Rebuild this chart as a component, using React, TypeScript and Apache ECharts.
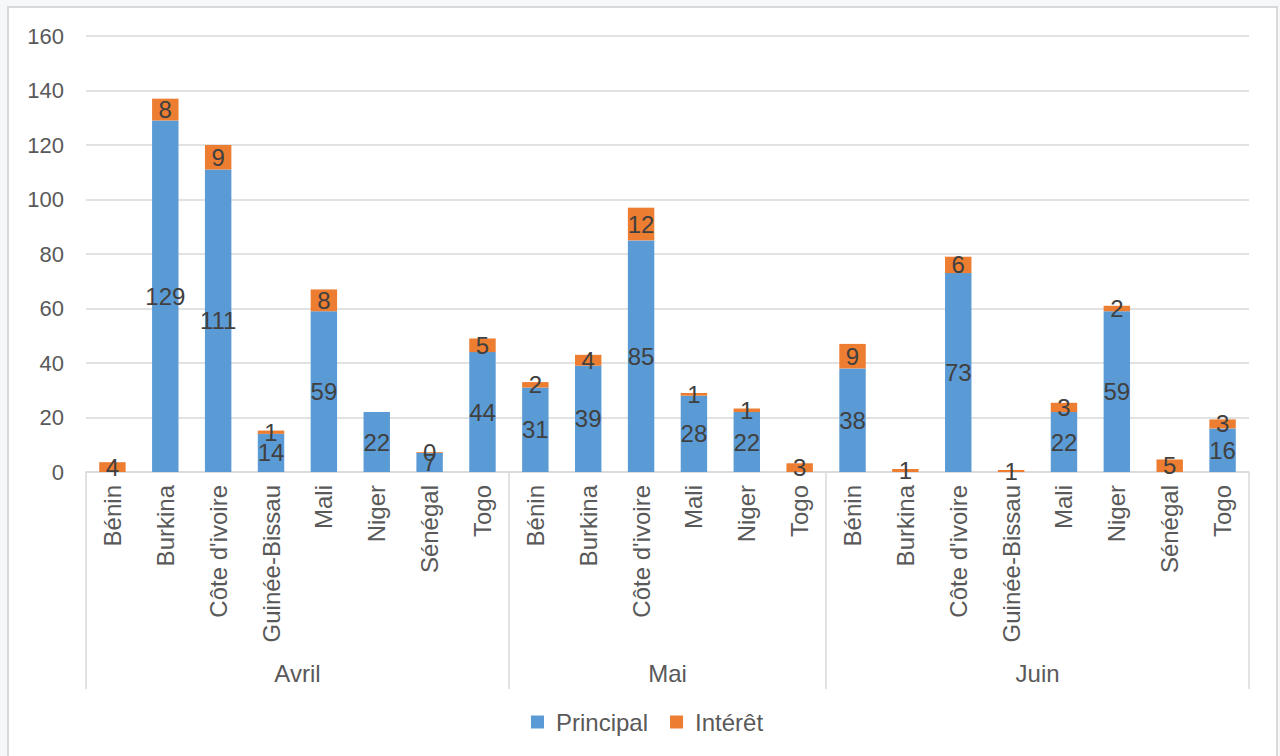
import React, { useEffect, useRef } from "react";
import * as echarts from "echarts";

const months = ["Avril", "Mai", "Juin"];
const avrilCountries = ["Bénin", "Burkina", "Côte d'ivoire", "Guinée-Bissau", "Mali", "Niger", "Sénégal", "Togo"];
const maiCountries = ["Bénin", "Burkina", "Côte d'ivoire", "Mali", "Niger", "Togo"];
const juinCountries = ["Bénin", "Burkina", "Côte d'ivoire", "Guinée-Bissau", "Mali", "Niger", "Sénégal", "Togo"];

const avrilPrincipal = [null, 129, 111, 14, 59, 22, 7, 44];
const avrilInteret = [3.6, 8, 9, 1.2, 8, null, 0.3, 5];
const maiPrincipal = [31, 39, 85, 28, 22, null];
const maiInteret = [2, 4, 12, 1, 1.3, 3.2];
const juinPrincipal = [38, null, 73, null, 22, 59, null, 16];
const juinInteret = [9, 1.1, 6, 0.7, 3.4, 2, 4.6, 3.3];

const yTicks = [0, 20, 40, 60, 80, 100, 120, 140, 160];

const FONT = "'Liberation Sans', Arial, sans-serif";

export default function App() {
  const ref = useRef<HTMLDivElement>(null);

  useEffect(() => {
    document.body.style.margin = "0";
    if (!ref.current) return;
    const chart = echarts.init(ref.current, undefined, { renderer: "svg" });

    const groups = [
      { name: months[0], countries: avrilCountries },
      { name: months[1], countries: maiCountries },
      { name: months[2], countries: juinCountries },
    ];
    const categories = groups.flatMap((g) => g.countries);
    const principal = [...avrilPrincipal, ...maiPrincipal, ...juinPrincipal];
    const interet = [...avrilInteret, ...maiInteret, ...juinInteret];

    const boundaries: number[] = [0];
    const centers: number[] = [];
    const centerNames: Record<string, string> = {};
    let acc = 0;
    groups.forEach((g) => {
      const c = acc + g.countries.length / 2;
      centers.push(c);
      centerNames[String(c)] = g.name;
      acc += g.countries.length;
      boundaries.push(acc);
    });

    const labelFmt = (p: any) =>
      p.value == null || p.value === "-" ? "" : String(Math.round(p.value));

    const dataLabel = {
      show: true,
      position: "inside",
      color: "#404040",
      fontSize: 24,
      fontFamily: FONT,
      formatter: labelFmt,
    };

    chart.setOption({
      animation: false,
      textStyle: { fontFamily: FONT },
      grid: { left: 86, right: 31, top: 36, bottom: 284, containLabel: false },
      legend: {
        data: ["Principal", "Intérêt"],
        left: 526,
        top: 705,
        icon: "rect",
        itemWidth: 13,
        itemHeight: 13,
        itemGap: 22,
        textStyle: { fontSize: 24, color: "#595959", fontFamily: FONT, padding: [0, 0, 0, 7] },
      },
      xAxis: [
        {
          type: "category",
          data: categories,
          position: "bottom",
          axisLine: { show: true, lineStyle: { color: "#D9D9D9", width: 1.5 } },
          axisTick: { show: false },
          axisLabel: {
            interval: 0,
            rotate: 90,
            margin: 13,
            fontSize: 24,
            color: "#595959",
            fontFamily: FONT,
          },
        },
        {
          type: "value",
          min: 0,
          max: categories.length,
          position: "bottom",
          axisLine: { show: false },
          splitLine: { show: false },
          axisTick: {
            show: true,
            customValues: boundaries,
            length: 217,
            lineStyle: { color: "#D9D9D9", width: 1.5 },
          },
          axisLabel: {
            show: true,
            customValues: centers,
            margin: 189,
            fontSize: 24,
            color: "#595959",
            fontFamily: FONT,
            formatter: (v: number) => centerNames[String(v)] ?? "",
          },
        },
      ],
      yAxis: {
        type: "value",
        min: yTicks[0],
        max: yTicks[yTicks.length - 1],
        interval: yTicks[1] - yTicks[0],
        axisLine: { show: false },
        axisTick: { show: false },
        splitLine: { lineStyle: { color: "#D9D9D9", width: 1.5 } },
        axisLabel: { fontSize: 22, color: "#595959", margin: 22, fontFamily: FONT },
      },
      series: [
        {
          name: "Principal",
          type: "bar",
          stack: "total",
          xAxisIndex: 0,
          barWidth: "50%",
          itemStyle: { color: "#5B9BD5" },
          label: dataLabel,
          data: principal,
        },
        {
          name: "Intérêt",
          type: "bar",
          stack: "total",
          xAxisIndex: 0,
          barWidth: "50%",
          itemStyle: { color: "#ED7D31" },
          label: dataLabel,
          data: interet,
        },
      ],
    });

    return () => chart.dispose();
  }, []);

  return (
    <div style={{ position: "relative", width: 1280, height: 756, background: "#f6f7f8", overflow: "hidden" }}>
      <div
        style={{
          position: "absolute",
          left: 7,
          top: 6,
          width: 1271,
          height: 770,
          border: "2px solid #D9D9D9",
          boxSizing: "border-box",
          background: "#ffffff",
        }}
      />
      <div ref={ref} style={{ position: "absolute", left: 0, top: 0, width: 1280, height: 756 }} />
    </div>
  );
}
